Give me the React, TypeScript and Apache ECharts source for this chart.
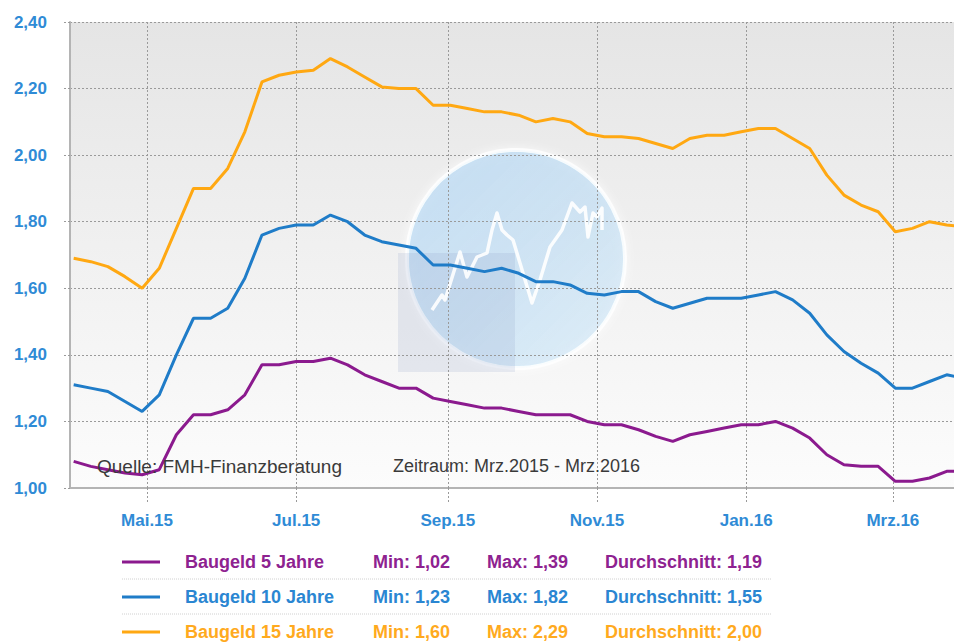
import React, { useEffect, useRef } from "react";
import * as echarts from "echarts";

// ---- data ----
const startYear = 2015;
const startMonth = 3; // April (0-based)
const startDay = 1;
const weekCount = 53;

const baugeld5 = [
  1.08, 1.065, 1.055, 1.045, 1.04, 1.055, 1.16, 1.22, 1.22, 1.235, 1.28, 1.37, 1.37, 1.38, 1.38, 1.39,
  1.37, 1.34, 1.32, 1.3, 1.3, 1.27, 1.26, 1.25, 1.24, 1.24, 1.23, 1.22, 1.22, 1.22, 1.2, 1.19, 1.19,
  1.175, 1.155, 1.14, 1.16, 1.17, 1.18, 1.19, 1.19, 1.2, 1.18, 1.15, 1.1, 1.07, 1.065, 1.065, 1.02,
  1.02, 1.03, 1.05, 1.05,
];
const baugeld10 = [
  1.31, 1.3, 1.29, 1.26, 1.23, 1.28, 1.4, 1.51, 1.51, 1.54, 1.63, 1.76, 1.78, 1.79, 1.79, 1.82, 1.8,
  1.76, 1.74, 1.73, 1.72, 1.67, 1.67, 1.66, 1.65, 1.66, 1.645, 1.62, 1.62, 1.61, 1.585, 1.58, 1.59,
  1.59, 1.56, 1.54, 1.555, 1.57, 1.57, 1.57, 1.58, 1.59, 1.565, 1.525, 1.46, 1.41, 1.375, 1.345, 1.3,
  1.3, 1.32, 1.34, 1.33,
];
const baugeld15 = [
  1.69, 1.68, 1.665, 1.635, 1.6, 1.66, 1.78, 1.9, 1.9, 1.96, 2.07, 2.22, 2.24, 2.25, 2.255, 2.29, 2.265,
  2.235, 2.205, 2.2, 2.2, 2.15, 2.15, 2.14, 2.13, 2.13, 2.12, 2.1, 2.11, 2.1, 2.065, 2.055, 2.055, 2.05,
  2.035, 2.02, 2.05, 2.06, 2.06, 2.07, 2.08, 2.08, 2.05, 2.02, 1.94, 1.88, 1.85, 1.83, 1.77, 1.78, 1.8,
  1.79, 1.785,
];

const seriesNames = ["Baugeld 5 Jahre", "Baugeld 10 Jahre", "Baugeld 15 Jahre"];
const seriesColors = ["#8b1a8e", "#1f7cc8", "#ffa812"];
const legendTextColors = ["#8e2290", "#2a86d2", "#ffaa1e"];
const legendMin = ["1,02", "1,23", "1,60"];
const legendMax = ["1,39", "1,82", "2,29"];
const legendAvg = ["1,19", "1,55", "2,00"];

// x-axis tick months [year, month(0-based)]
const tickMonths: [number, number][] = [
  [2015, 4],
  [2015, 6],
  [2015, 8],
  [2015, 10],
  [2016, 0],
  [2016, 2],
];
const monthNames = ["Jan", "Feb", "Mrz", "Apr", "Mai", "Jun", "Jul", "Aug", "Sep", "Okt", "Nov", "Dez"];

const yMin = 1.0;
const yMax = 2.4;
const yStep = 0.2;

const sourceText = "Quelle: FMH-Finanzberatung";
const periodText = "Zeitraum: Mrz.2015 - Mrz.2016";

// watermark chart line (decorative logo)
const logoLine: [number, number][] = [
  [432, 310], [442, 295], [445, 300], [460, 252], [467, 277], [477, 257], [487, 253], [492, 230],
  [497, 213], [502, 230], [507, 235], [513, 240], [523, 273], [532, 303], [540, 280], [550, 247],
  [562, 230], [572, 203], [580, 212], [585, 207], [588, 237], [593, 213], [597, 217], [602, 208],
  [602, 230],
];

const FONT = 'Arial, "Liberation Sans", Helvetica, sans-serif';

function fmt(v: number) {
  return v.toFixed(2).replace(".", ",");
}

export default function App() {
  const ref = useRef<HTMLDivElement>(null);

  useEffect(() => {
    if (!ref.current) return;
    const chart = echarts.init(ref.current, undefined, { renderer: "svg" });

    const dates = Array.from({ length: weekCount }, (_, k) =>
      new Date(startYear, startMonth, startDay + 7 * k).getTime()
    );
    const mk = (vals: number[]) => vals.map((v, i) => [dates[i], v]);
    const tickValues = tickMonths.map(([y, m]) => new Date(y, m, 1).getTime());

    const xMin = new Date(2015, 2, 30, 12).getTime();
    const xMax = new Date(2016, 2, 26).getTime();

    const plotLeft = 70;
    const plotTop = 22;
    const plotBottom = 488;

    const legendRowsY = [562, 597, 632];

    const legendEls: any[] = [];
    seriesNames.forEach((name, i) => {
      const y = legendRowsY[i];
      legendEls.push({
        type: "line",
        z: 10,
        shape: { x1: 122, y1: y, x2: 160, y2: y },
        style: { stroke: seriesColors[i], lineWidth: 3 },
      });
      const cols: [number, string][] = [
        [185, name],
        [373, "Min: " + legendMin[i]],
        [487, "Max: " + legendMax[i]],
        [605, "Durchschnitt: " + legendAvg[i]],
      ];
      cols.forEach(([x, t]) => {
        legendEls.push({
          type: "text",
          z: 10,
          x,
          y,
          style: {
            text: t,
            fill: legendTextColors[i],
            font: `bold 18px ${FONT}`,
            verticalAlign: "middle",
          },
        });
      });
      if (i < seriesNames.length - 1) {
        legendEls.push({
          type: "line",
          z: 10,
          shape: { x1: 122, y1: y + 17, x2: 772, y2: y + 17 },
          style: { stroke: "#d0d0d0", lineWidth: 1, lineDash: [1, 1] },
        });
      }
    });

    const gridLineStyle = { color: "#9a9a9a", type: [2, 2] as any, width: 1 };

    const option: any = {
      animation: false,
      backgroundColor: "#ffffff",
      grid: { left: plotLeft, top: plotTop, right: 0, bottom: 642 - plotBottom, containLabel: false },
      xAxis: {
        type: "value",
        z: 3,
        min: xMin,
        max: xMax,
        axisLine: { show: true, onZero: false, lineStyle: { color: "#b4b4b4", width: 2 } },
        axisTick: {
          show: true,
          length: 14,
          customValues: tickValues,
          lineStyle: gridLineStyle,
        },
        splitLine: { show: false },
        axisLabel: {
          customValues: tickValues,
          margin: 24,
          color: "#2f8bd6",
          fontWeight: "bold",
          fontSize: 17,
          fontFamily: FONT,
          formatter: (v: number) => {
            const d = new Date(v);
            return monthNames[d.getMonth()] + "." + String(d.getFullYear()).slice(2);
          },
        },
      },
      yAxis: {
        type: "value",
        z: 3,
        min: yMin,
        max: yMax,
        interval: yStep,
        axisLine: { show: true, lineStyle: { color: "#b4b4b4", width: 2 } },
        axisTick: { show: true, length: 8, lineStyle: gridLineStyle },
        splitLine: { show: true, lineStyle: gridLineStyle },
        axisLabel: {
          margin: 23,
          color: "#2f8bd6",
          fontWeight: "bold",
          fontSize: 17,
          fontFamily: FONT,
          formatter: (v: number) => fmt(v),
        },
      },
      graphic: {
        elements: [
          {
            type: "rect",
            z: -20,
            shape: { x: plotLeft, y: plotTop, width: 954 - plotLeft, height: plotBottom - plotTop },
            style: {
              fill: new echarts.graphic.LinearGradient(0, 0, 0, 1, [
                { offset: 0, color: "#e5e5e5" },
                { offset: 1, color: "#fcfcfc" },
              ]),
            },
          },
          {
            type: "circle",
            z: -14,
            shape: { cx: 516, cy: 259, r: 109 },
            style: {
              fill: new echarts.graphic.LinearGradient(0, 0, 1, 1, [
                { offset: 0, color: "rgba(95,185,240,0.42)" },
                { offset: 0.55, color: "rgba(110,192,240,0.36)" },
                { offset: 1, color: "rgba(150,210,245,0.3)" },
              ]),
              stroke: "rgba(255,255,255,0.85)",
              lineWidth: 4,
              shadowBlur: 8,
              shadowColor: "rgba(255,255,255,0.9)",
            },
          },
          {
            type: "rect",
            z: -13,
            shape: { x: 398, y: 253, width: 117, height: 119 },
            style: { fill: "rgba(130,150,195,0.16)" },
          },
          {
            type: "polyline",
            z: -12,
            shape: { points: logoLine },
            style: { stroke: "rgba(255,255,255,0.9)", lineWidth: 3.5, fill: null, lineJoin: "round" },
          },
          {
            type: "text",
            z: 10,
            x: 97,
            y: 466,
            style: {
              text: sourceText,
              fill: "#3a3a3a",
              font: `19px ${FONT}`,
              verticalAlign: "middle",
            },
          },
          {
            type: "text",
            z: 10,
            x: 393,
            y: 466,
            style: {
              text: periodText,
              fill: "#3a3a3a",
              font: `18px ${FONT}`,
              verticalAlign: "middle",
            },
          },
          ...legendEls,
        ],
      },
      series: [
        {
          name: "grid",
          type: "line",
          data: [],
          z: 3,
          silent: true,
          markLine: {
            silent: true,
            symbol: "none",
            label: { show: false },
            lineStyle: gridLineStyle,
            emphasis: { disabled: true },
            data: tickValues.map((v) => ({ xAxis: v })),
          },
        },
        ...[baugeld5, baugeld10, baugeld15].map((vals, i) => ({
          name: seriesNames[i],
          type: "line",
          data: mk(vals),
          showSymbol: false,
          symbol: "none",
          z: 5,
          lineStyle: { color: seriesColors[i], width: 3 },
          itemStyle: { color: seriesColors[i] },
        })),
      ],
    };

    chart.setOption(option);
    return () => chart.dispose();
  }, []);

  return (
    <div
      ref={ref}
      style={{ position: "fixed", left: 0, top: 0, width: 954, height: 642, background: "#fff" }}
    />
  );
}
